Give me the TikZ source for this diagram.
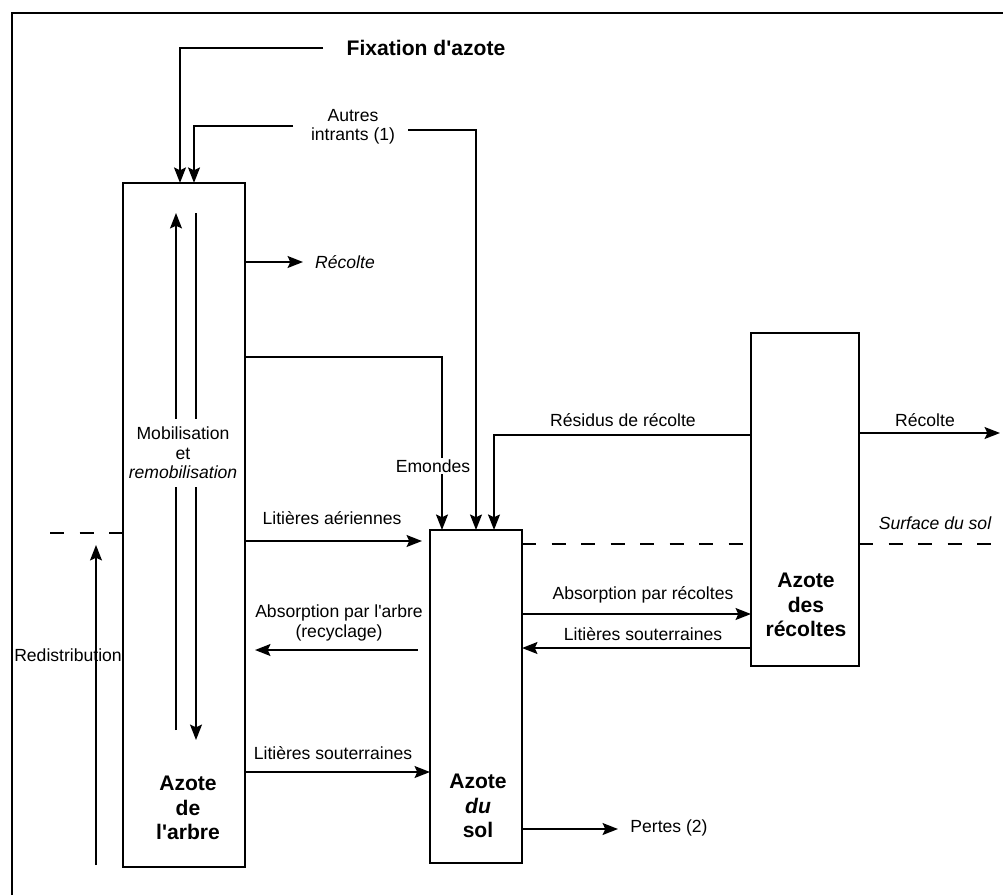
\documentclass[tikz,border=0pt]{standalone}
\usepackage{fontspec}
\setmainfont{Liberation Sans}
\usetikzlibrary{arrows.meta, positioning}

\begin{document}
\begin{tikzpicture}[
  x=0.025cm, y=-0.025cm,
  box/.style   = {rectangle, draw, line width=1.3pt, inner sep=0pt, outer sep=0pt},
  lbl/.style   = {align=center, inner sep=1pt, font=\fontsize{12.5}{13.8}\selectfont},
  itl/.style   = {lbl, font=\fontsize{12.5}{13.8}\selectfont\itshape},
  big/.style   = {align=center, inner sep=1pt, font=\fontsize{15}{17.5}\selectfont\bfseries},
  flow/.style  = {-{Stealth[length=11pt,width=8.5pt,inset=2pt]}, line width=1.3pt},
  surf/.style  = {line width=1.5pt, dash pattern=on 10pt off 11pt},
  frame/.style = {line width=1.1pt}
]
\useasboundingbox (0,0) rectangle (1003,895);
\draw[frame] (12,895) |- (1003,13);

% compartiments
\node[box, minimum width=3.05cm, minimum height=17.1cm]  (arbre)    at (184,525)   {};
\node[box, minimum width=2.3cm,  minimum height=8.325cm] (sol)      at (476,696.5) {};
\node[box, minimum width=2.7cm,  minimum height=8.325cm] (recoltes) at (805,499.5) {};

% free ends
\coordinate (fixOut)  at (323,48);
\coordinate (autW)    at (293,126);
\coordinate (autE)    at (408,130);
\coordinate (recAEnd) at (303,262);
\coordinate (recBEnd) at (1000,433);
\coordinate (pertEnd) at (618,829);
\coordinate (redisLo) at (96,865);
\coordinate (redisHi) at (96,545);
\coordinate (upLo)    at (176,730);
\coordinate (upHi)    at (176,213);
\coordinate (dnHi)    at (196,213);
\coordinate (dnLo)    at (196,740);
\coordinate (surfW)   at (50,533);
\coordinate (surfE)   at (1003,544);

% flux
\draw[flow] (fixOut) -| ([xshift=-0.1cm]arbre.north);
\draw[flow] (autW) -| ([xshift=0.25cm]arbre.north);
\draw[flow] (autE) -| (sol.north);
\draw[flow] (arbre.east |- recAEnd) -- (recAEnd);
\draw[flow] (arbre.east |- 0,357) -| ([xshift=-0.85cm]sol.north);
\draw[flow] (recoltes.west |- 0,435) -| ([xshift=0.45cm]sol.north);
\draw[flow] (recoltes.east |- recBEnd) -- (recBEnd);
\draw[flow] (arbre.east |- 0,541) -- ([xshift=-0.2cm]sol.west |- 0,541);
\draw[flow, shorten <=0.3cm, shorten >=0.25cm] (sol.west |- 0,650) -- (arbre.east |- 0,650);
\draw[flow] (arbre.east |- 0,772) -- (sol.west |- 0,772);
\draw[flow] (sol.east |- 0,614) -- (recoltes.west |- 0,614);
\draw[flow] (recoltes.west |- 0,648) -- (sol.east |- 0,648);
\draw[flow] (sol.east |- pertEnd) -- (pertEnd);
\draw[flow] (redisLo) -- (redisHi);
\draw[flow] (upLo) -- (upHi);
\draw[flow] (dnHi) -- (dnLo);

% surface du sol
\draw[surf] (surfW) -- (arbre.west |- surfW);
\draw[surf] (sol.east |- surfE) -- (recoltes.west |- surfE);
\draw[surf] (recoltes.east |- surfE) -- (surfE);

% textes
\node[big] (fix)    at (426,48)  {Fixation d\textquotesingle azote};
\node[lbl] (autres) at (353,127) {Autres\\intrants (1)};
\node[itl] (recA)   at (345,262) {Récolte};
\node[lbl, fill=white, inner ysep=6pt] (mobil) at (183,453) {Mobilisation\\et\\\textit{remobilisation}};
\node[lbl, fill=white] (emondes) at (433,466) {Emondes};
\node[lbl] (litA)    at (332,518) {Litières aériennes};
\node[lbl] (absA)    at (339,623) {Absorption par l\textquotesingle arbre\\(recyclage)};
\node[lbl] (litS1)   at (333,753) {Litières souterraines};
\node[lbl] (redis)   at (68,655)  {Redistribution};
\node[lbl] (residus) at (623,420) {Résidus de récolte};
\node[lbl] (recB)    at (925,420) {Récolte};
\node[itl] (surface) at (935,523) {Surface du sol};
\node[lbl] (absR)    at (643,595) {Absorption par récoltes};
\node[lbl] (litS2)   at (643,634) {Litières souterraines};
\node[lbl] (pertes)  at (669,828) {Pertes (2)};
\node[big] (labA)    at (188,808) {Azote\\de\\l\textquotesingle arbre};
\node[big] (labS)    at (478,806) {Azote\\\textit{du}\\sol};
\node[big] (labR)    at (806,605) {Azote\\des\\récoltes};
\end{tikzpicture}
\end{document}
